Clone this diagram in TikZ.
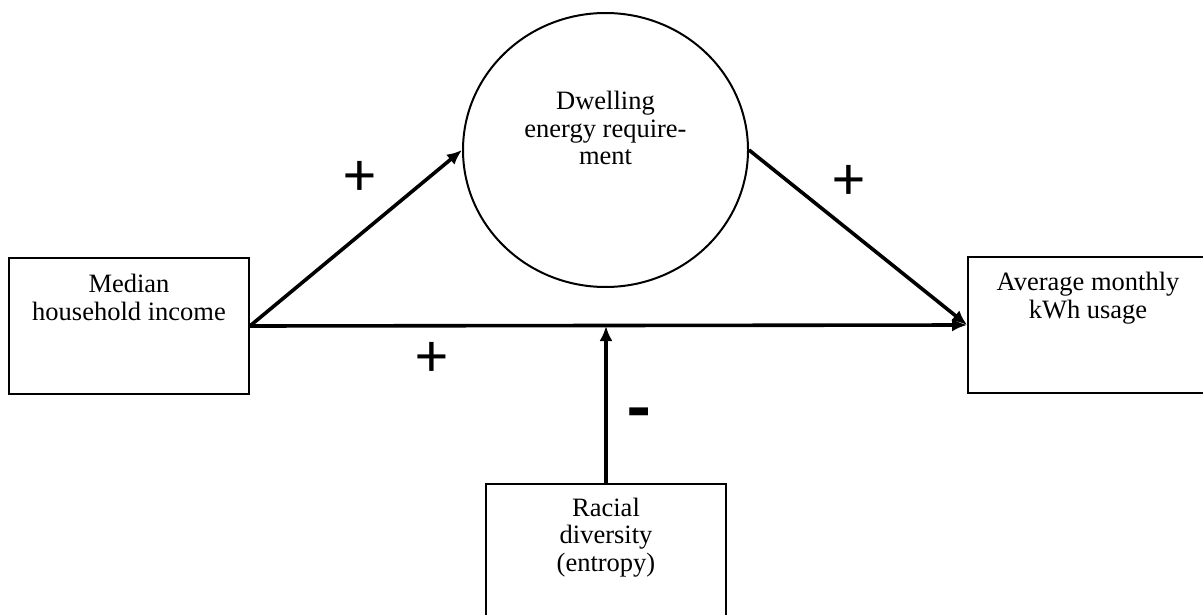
\documentclass[tikz,border=0pt]{standalone}
\usepackage{fontspec}
\setmainfont{Liberation Serif}
\newfontfamily\signfont{Carlito}
\usetikzlibrary{arrows.meta,shapes.geometric}
\tikzset{
  boxnode/.style={draw=black, line width=1.8pt, rectangle, minimum width=240pt, minimum height=136pt, inner sep=0pt},
  ovalnode/.style={draw=black, line width=2pt, ellipse, minimum width=285pt, minimum height=274pt, inner sep=0pt},
  txt/.style={align=center, inner sep=0pt, font=\fontsize{26.5}{27.5}\selectfont, anchor=base},
  sign/.style={inner sep=0pt, font=\signfont\fontsize{62}{62}\selectfont},
  conn/.style={line width=3.6pt, -{Latex[length=15pt,width=13pt]}}
}
\begin{document}
\begin{tikzpicture}[x=1pt,y=-1pt]
\useasboundingbox (0,0) rectangle (1203,615);
\node[boxnode] (inc) at (129,326) {};
\node[boxnode] (kwh) at (1088,325) {};
\node[boxnode] (race) at (606,552) {};
\node[ovalnode] (dw) at (605.5,150) {};
\node[txt] (inct) at (129,320) {Median\\household income};
\node[txt] (kwht) at (1088,318) {Average monthly\\kWh usage};
\node[txt] (dwt) at (605.5,165) {Dwelling\\energy require-\\ment};
\node[txt] (racet) at (606,571) {Racial\\diversity\\(entropy)};
\coordinate (mid) at (race.north |- inc.east);
\draw[conn] (inc.east) -- (dw.west);
\draw[conn] (dw.east) -- (kwh.west);
\draw[conn] (inc.east) -- (kwh.west);
\draw[conn] (race.north) -- (mid);
\node[sign] (s1) at (360,178) {+};
\node[sign] (s2) at (849,182) {+};
\node[sign] (s3) at (432,359) {+};
\node[sign, font=\signfont\bfseries\fontsize{76}{76}\selectfont] (s4) at (639.5,421) {-};
\end{tikzpicture}
\end{document}
